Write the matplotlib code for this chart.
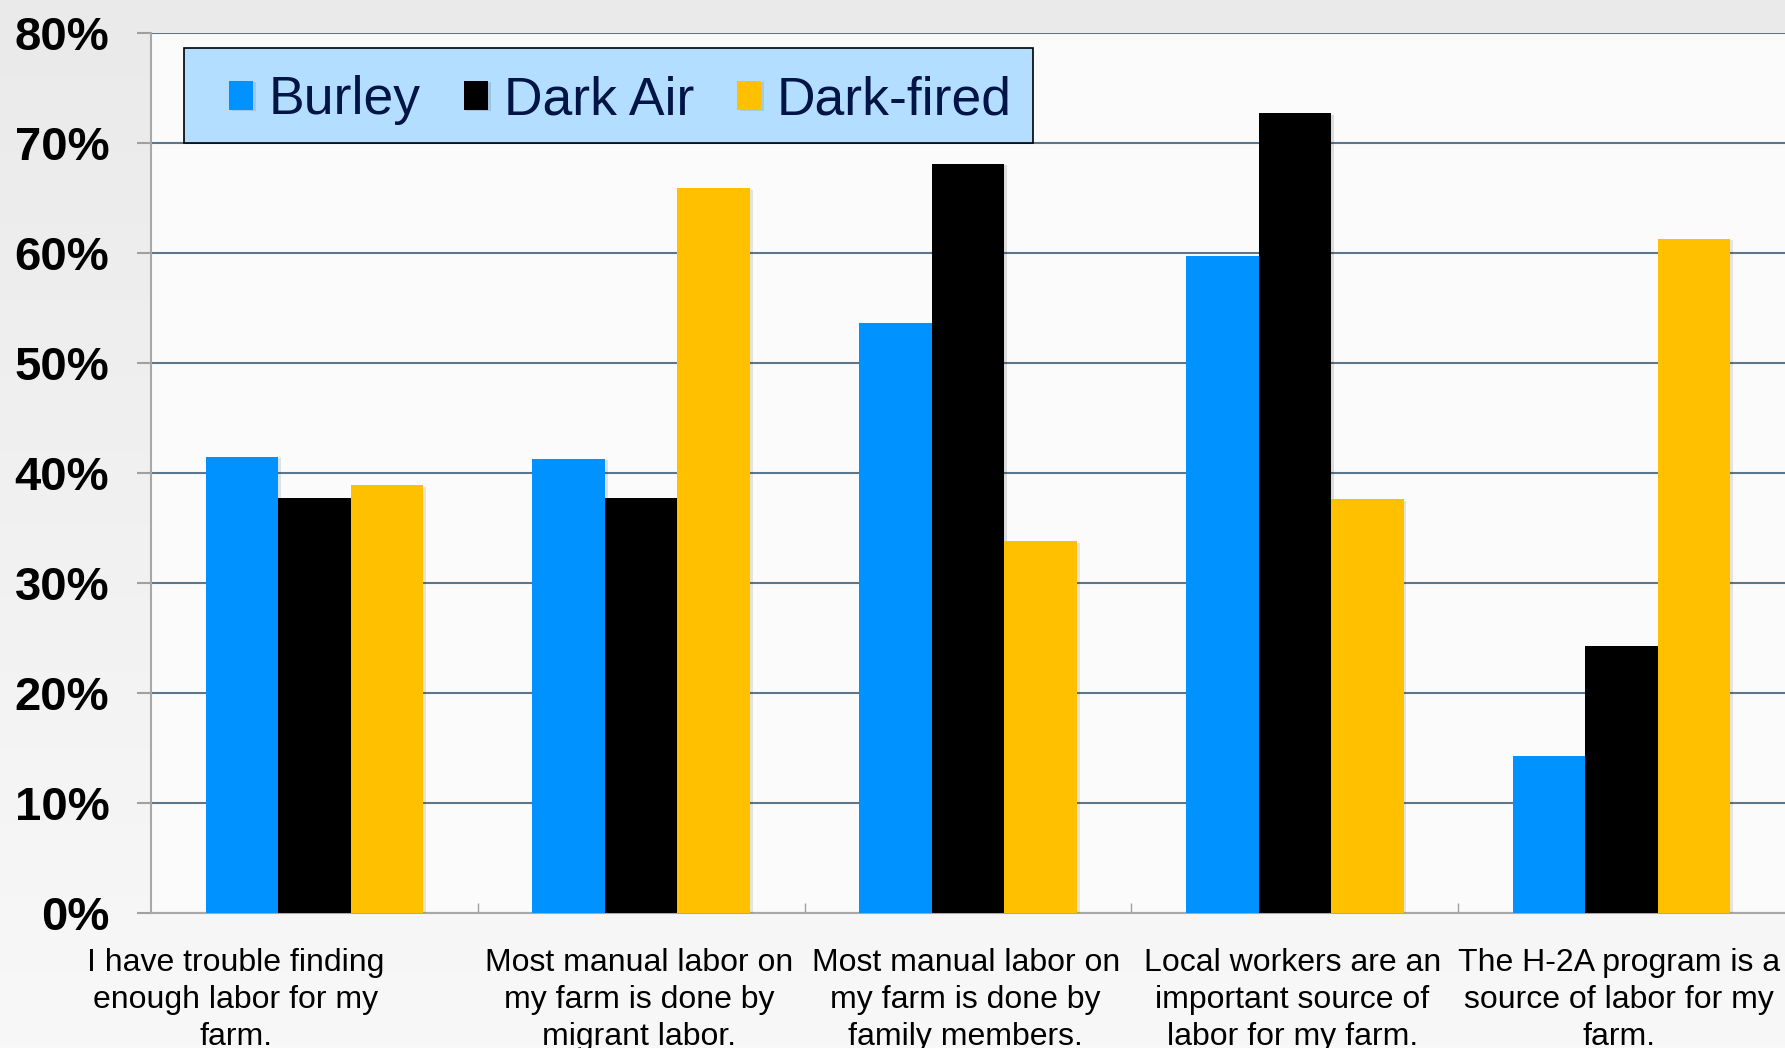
import numpy as np
import matplotlib
matplotlib.use("Agg")
import matplotlib.pyplot as plt
import matplotlib.patheffects as pe
from matplotlib.patches import Rectangle

plt.rcParams['font.family'] = ['Liberation Sans', 'DejaVu Sans']

# survey statements (x categories)
categories = [
    "I have trouble finding\nenough labor for my\nfarm.",
    "Most manual labor on\nmy farm is done by\nmigrant labor.",
    "Most manual labor on\nmy farm is done by\nfamily members.",
    "Local workers are an\nimportant source of\nlabor for my farm.",
    "The H-2A program is a\nsource of labor for my\nfarm.",
]
series_names = ["Burley", "Dark Air", "Dark-fired"]
burley = [41.5, 41.3, 53.6, 59.7, 14.3]
dark_air = [37.7, 37.7, 68.1, 72.7, 24.3]
dark_fired = [38.9, 65.9, 33.8, 37.6, 61.3]
y_ticks = [0, 10, 20, 30, 40, 50, 60, 70, 80]

colors = ["#0092FF", "#000000", "#FFC000"]
values = [burley, dark_air, dark_fired]

fig = plt.figure(figsize=(17.85, 10.48), dpi=100)

# light gray gradient background
bg = fig.add_axes([0, 0, 1, 1], zorder=-10)
grad = np.linspace(0, 1, 256).reshape(-1, 1)
bg.imshow(grad, aspect="auto", cmap=matplotlib.colors.LinearSegmentedColormap.from_list(
    "bg", ["#EAEAEA", "#F8F8F8"]), extent=[0, 1, 0, 1])
bg.axis("off")

ax = fig.add_axes([0.0846, 0.1288, 0.9154, 0.8397])
ax.set_facecolor("#FBFBFB")

x = np.arange(len(categories))
w = 0.222
for i, (name, vals) in enumerate(zip(series_names, values)):
    ax.bar(x + (i - 1) * w, vals, width=w, color=colors[i], label=name, zorder=3,
           path_effects=[pe.SimplePatchShadow(offset=(2, -1), alpha=0.12), pe.Normal()])

ax.set_xlim(-0.5, len(categories) - 0.5)
ax.set_ylim(0, 80)
ax.set_yticks(y_ticks)
ax.set_yticklabels([f"{t}%" for t in y_ticks], fontsize=34, fontweight="bold")
ax.yaxis.grid(True, color="#5C768C", linewidth=1.5, zorder=1)
ax.set_axisbelow(True)

# category labels drawn as text (first one sits left of its group, as in the original)
ax.set_xticks(x)
ax.set_xticklabels([])
ax.set_xticks(np.arange(0.5, len(categories) - 0.5, 1), minor=True)
ax.tick_params(axis="x", which="major", length=0)
ax.tick_params(axis="x", which="minor", direction="in", length=7, color="#A0A0A0", width=1)
ax.tick_params(axis="y", length=10, color="#A0A0A0", width=1.5, pad=20)
label_shift = [-0.24, -0.007, -0.007, -0.007, -0.007]
for xi, lab, dx in zip(x, categories, label_shift):
    ax.text(xi + dx, -0.040, lab, transform=ax.get_xaxis_transform(), ha="center", va="top",
            fontsize=23, linespacing=1.3, color="#000000", clip_on=False)

for s in ["top", "right"]:
    ax.spines[s].set_visible(False)
ax.spines["left"].set_color("#A8A8A8")
ax.spines["left"].set_linewidth(1.5)
ax.spines["bottom"].set_color("#A8A8A8")
ax.spines["bottom"].set_linewidth(1.5)

# legend box
ax.add_patch(Rectangle((0.0202, 0.875), 0.5193, 0.108, transform=ax.transAxes,
                       facecolor="#B3DEFF", edgecolor="#000000", linewidth=1.2,
                       zorder=4.5, clip_on=False))
leg = ax.legend(loc="upper left", bbox_to_anchor=(0.0476, 0.952), borderaxespad=0,
                ncol=3, fontsize=38.5, handlelength=0.45, handleheight=0.45,
                handletextpad=0.3, columnspacing=0.8, borderpad=0, frameon=False)
for t in leg.get_texts():
    t.set_color("#001446")

fig.savefig("out.png", dpi=100)
